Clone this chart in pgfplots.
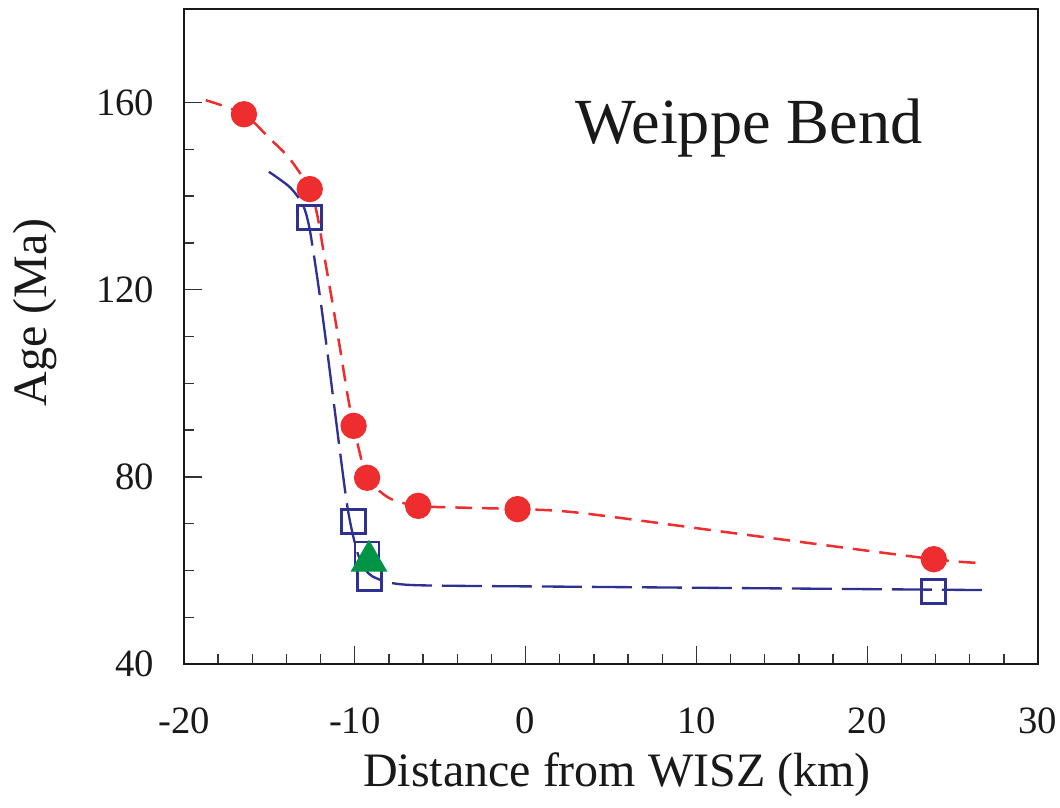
\documentclass[border=0pt]{standalone}
\usepackage{fontspec}
\setmainfont{Liberation Serif}
\usepackage{pgfplots}
\pgfplotsset{compat=1.18}

\definecolor{ptred}{RGB}{237,45,46}
\definecolor{ptblue}{RGB}{46,49,146}
\definecolor{ptgreen}{RGB}{0,148,68}

\begin{document}
\begin{tikzpicture}
\begin{axis}[
  name=ax,
  scale only axis,
  width=256.2pt, height=196.5pt,
  xmin=-20, xmax=30, ymin=40, ymax=180,
  xtick={-20,-10,0,10,20,30},
  xticklabels={-20,-10,0,10,20,30},
  ytick={40,80,120,160},
  yticklabels={40,80,120,160},
  minor x tick num=4,
  minor y tick num=3,
  tick pos=left,
  tick align=inside,
  major tick length=5.5pt,
  minor tick length=3pt,
  every tick/.style={black!80, line width=0.4pt},
  axis line style={line width=0.8pt, black!90},
  tick label style={font=\fontsize{11.6}{13}\selectfont, black!90},
  xticklabel style={inner sep=0pt, anchor=north, yshift=-13.0pt},
  yticklabel style={inner sep=0pt, anchor=east, xshift=-8.7pt},
  xlabel={Distance from WISZ (km)},
  ylabel={Age (Ma)},
  label style={font=\fontsize{14.4}{17}\selectfont, black!90},
  xlabel style={at={(axis description cs:0.507,0)}, anchor=center, yshift=-33.3pt},
  ylabel style={at={(axis description cs:0,0.537)}, anchor=center, yshift=44.7pt},
  clip=false,
]

% open squares
\addplot[only marks, mark=square, mark size=3.6pt, draw=ptblue,
  mark options={line width=0.8pt}] coordinates {
  (-12.64,135.5) (-10.08,70.5) (-9.28,63.5) (-9.12,58.3) (23.9,55.5)
};

% triangle
\addplot[only marks, mark=triangle*, mark size=6pt, fill=ptgreen, draw=ptgreen]
  coordinates { (-9.17,62.0) };

% long-dashed trend
\addplot[ptblue, line width=0.7pt, smooth, dash pattern=on 12pt off 3pt]
  coordinates {
  (-15.03,145.2) (-13.8,141.9) (-13.05,138.2) (-12.7,134.0) (-12.4,127.5)
  (-12.0,117.5) (-11.6,106.5) (-11.2,95.0) (-10.8,83.5) (-10.45,74.0)
  (-10.15,68.2) (-9.8,63.3) (-9.4,60.3) (-9.0,58.8) (-8.1,57.5)
  (-6.8,56.9) (-3.85,56.7) (3.18,56.5) (26.8,55.8)
};

% short-dashed trend
\addplot[ptred, line width=0.75pt, smooth, dash pattern=on 5pt off 3pt]
  coordinates {
  (-18.72,160.5) (-16.5,157.5) (-14.98,152.3) (-13.81,148.0) (-12.64,141.5)
  (-12.2,136.0) (-11.8,127.5) (-11.3,117.0) (-10.8,106.0) (-10.4,97.0)
  (-10.07,90.9) (-9.7,85.0) (-9.28,79.8) (-8.0,75.5) (-6.29,73.8)
  (-3.5,73.4) (-0.47,73.1) (3.18,72.3) (12.95,67.6) (23.9,62.4) (26.8,61.6)
};

% filled circles
\addplot[only marks, mark=*, mark size=3.75pt, fill=ptred, draw=ptred]
  coordinates {
  (-16.49,157.5) (-12.64,141.5) (-10.07,90.9) (-9.28,79.8)
  (-6.29,73.8) (-0.47,73.1) (23.9,62.4)
};

\node[anchor=base, font=\fontsize{19.3}{23}\selectfont, black!90]
  at (axis cs:13.1,151.3) {Weippe Bend};
\end{axis}
\pgfresetboundingbox
\path[use as bounding box] ([xshift=-55.2pt,yshift=-43.2pt]ax.south west)
  rectangle ([xshift=6.6pt,yshift=2.7pt]ax.north east);
\end{tikzpicture}
\end{document}
